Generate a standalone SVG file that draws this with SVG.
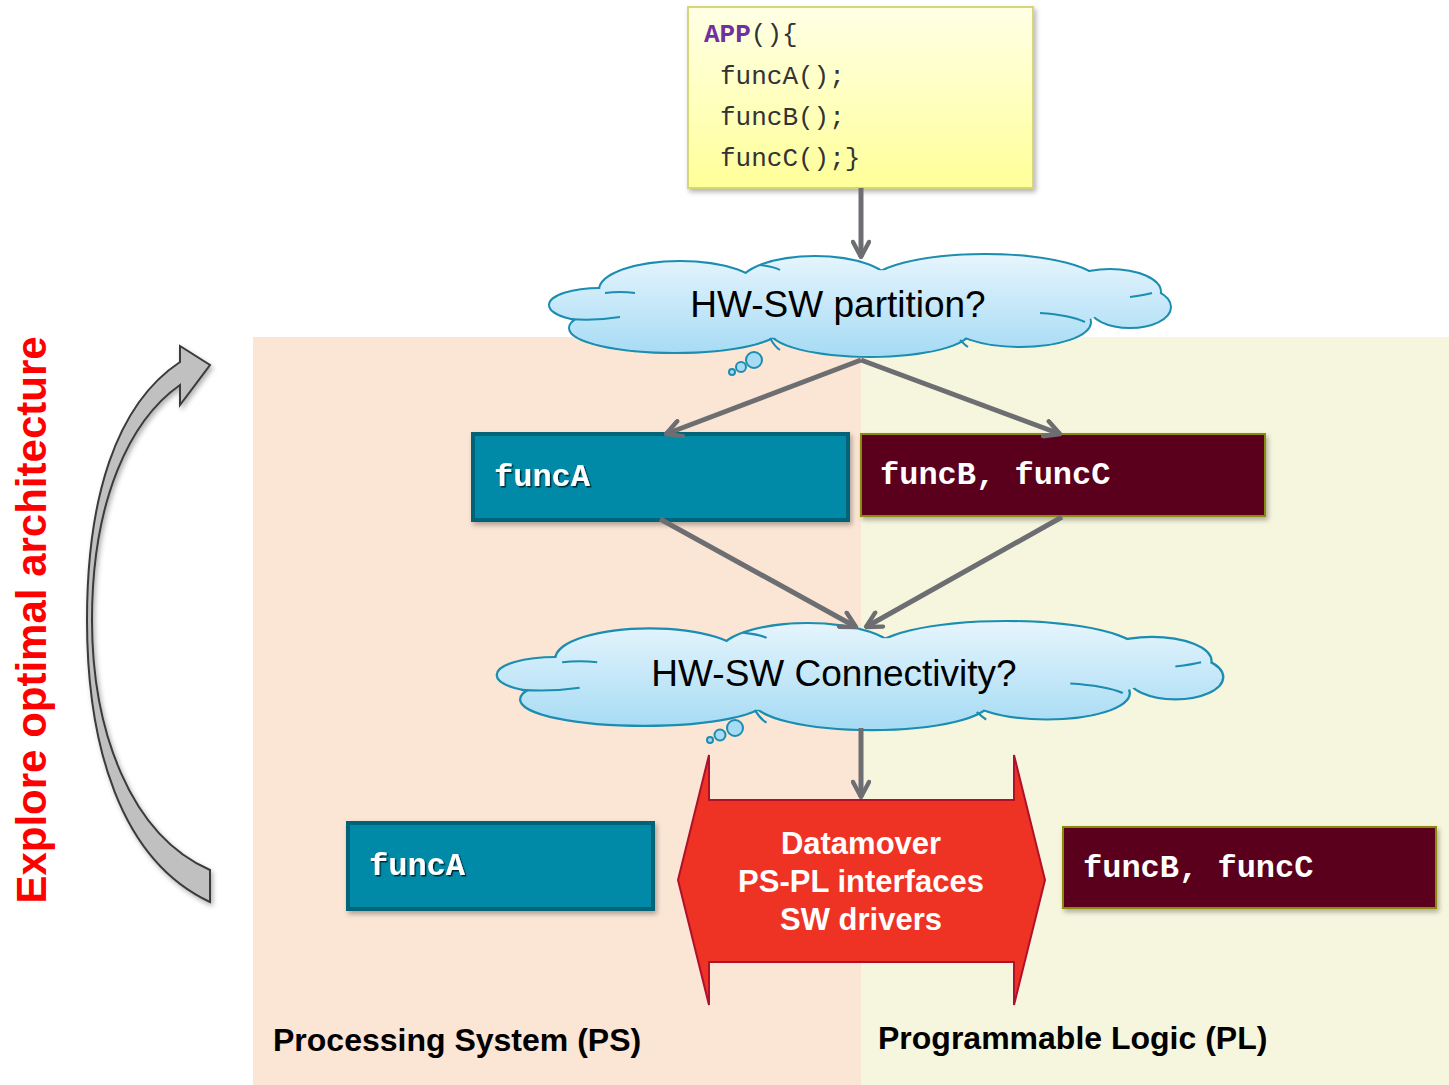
<svg xmlns="http://www.w3.org/2000/svg" xmlns:xlink="http://www.w3.org/1999/xlink" width="1449" height="1085" viewBox="0 0 1449 1085">
<defs>
<style>
.code{font-family:"Liberation Mono","Courier New",monospace;font-size:26px;fill:#333333}
.box{font-family:"Liberation Mono","Courier New",monospace;font-size:32px;font-weight:bold;fill:#ffffff}
.cloudtxt{font-family:"Liberation Sans",Arial,sans-serif;font-size:37px;fill:#000000;text-anchor:middle}
.bold{font-family:"Liberation Sans",Arial,sans-serif;font-weight:bold}
.conn{stroke:#6d6e71;stroke-width:5;fill:none;marker-end:url(#chev)}
.ps{fill:#008aa8;stroke:#006478;stroke-width:4}
.pl{fill:#5a001e;stroke:#8a8a10;stroke-width:2}
</style>
<linearGradient id="yellow" x1="0" y1="0" x2="0" y2="1">
<stop offset="0" stop-color="#ffffe6"/><stop offset="1" stop-color="#ffff99"/>
</linearGradient>
<linearGradient id="sky" gradientUnits="userSpaceOnUse" x1="0" y1="-50" x2="0" y2="50">
<stop offset="0" stop-color="#e6f5fd"/><stop offset="1" stop-color="#a6dbf4"/>
</linearGradient>
<marker id="chev" viewBox="0 0 10 10" refX="9" refY="5" markerWidth="4" markerHeight="4" orient="auto">
<path d="M1.5,1 L9,5 L1.5,9" fill="none" stroke="#6d6e71" stroke-width="2.2" stroke-linecap="round" stroke-linejoin="round"/>
</marker>
<filter id="shadow" x="-10%" y="-10%" width="120%" height="130%">
<feDropShadow dx="2" dy="3" stdDeviation="2.5" flood-color="#000" flood-opacity="0.3"/>
</filter>
<filter id="tshadow">
<feDropShadow dx="1.5" dy="1.5" stdDeviation="0.6" flood-color="#000" flood-opacity="0.7"/>
</filter>
<g id="cloud">
<g fill="none" stroke="#1b8db0" stroke-width="4">
<ellipse cx="-180" cy="-15" rx="80" ry="28"/>
<ellipse cx="-45" cy="-20" rx="75" ry="28"/>
<ellipse cx="125" cy="-20" rx="115" ry="30"/>
<ellipse cx="250" cy="-13" rx="50" ry="22"/>
<ellipse cx="270" cy="2" rx="40" ry="20"/>
<ellipse cx="160" cy="17" rx="70" ry="24"/>
<ellipse cx="10" cy="25" rx="100" ry="26"/>
<ellipse cx="-185" cy="23" rx="105" ry="24"/>
<ellipse cx="-260" cy="0" rx="50" ry="16"/>
</g>
<g fill="url(#sky)">
<ellipse cx="-180" cy="-15" rx="80" ry="28"/>
<ellipse cx="-45" cy="-20" rx="75" ry="28"/>
<ellipse cx="125" cy="-20" rx="115" ry="30"/>
<ellipse cx="250" cy="-13" rx="50" ry="22"/>
<ellipse cx="270" cy="2" rx="40" ry="20"/>
<ellipse cx="160" cy="17" rx="70" ry="24"/>
<ellipse cx="10" cy="25" rx="100" ry="26"/>
<ellipse cx="-185" cy="23" rx="105" ry="24"/>
<ellipse cx="-260" cy="0" rx="50" ry="16"/>
<ellipse cx="0" cy="0" rx="250" ry="35"/>
</g>
<g fill="none" stroke="#1b8db0" stroke-width="2">
<path d="M-255,-12 Q-240,-14 -225,-12"/>
<path d="M-290,14 Q-265,16 -240,12"/>
<path d="M-100,-40 Q-85,-38 -80,-35"/>
<path d="M180,8 Q210,10 225,17"/>
<path d="M270,-8 Q285,-10 292,-12"/>
<path d="M-90,33 Q-85,42 -80,45"/>
<path d="M100,35 Q105,40 108,42"/>
</g>
</g>
</defs>

<rect x="0" y="0" width="1449" height="1085" fill="#ffffff"/>
<g id="bg">
<rect x="253" y="337" width="608" height="748" fill="#fbe5d4"/>
<rect x="861" y="337" width="588" height="748" fill="#f6f5dd"/>
</g>

<g id="code">
<rect x="688" y="7" width="345" height="181" fill="url(#yellow)" stroke="#d6d67a" stroke-width="2" filter="url(#shadow)"/>
<text class="code" x="704" y="42"><tspan font-weight="bold" fill="#7030a0">APP</tspan>(){</text>
<text class="code" x="720" y="84">funcA();</text>
<text class="code" x="720" y="125">funcB();</text>
<text class="code" x="720" y="166">funcC();}</text>
</g>

<g id="partition">
<use xlink:href="#cloud" transform="translate(860,305)"/>
<g fill="#a6dbf4" stroke="#1b8db0" stroke-width="2">
<circle cx="754" cy="360" r="8"/><circle cx="741" cy="367" r="5"/><circle cx="732" cy="372" r="3"/>
</g>
<text class="cloudtxt" x="838" y="317">HW-SW partition?</text>
</g>

<g id="connectivity">
<use xlink:href="#cloud" transform="translate(860,675) scale(1.168,1.06)"/>
<g fill="#a6dbf4" stroke="#1b8db0" stroke-width="2">
<circle cx="735" cy="728" r="8"/><circle cx="720" cy="735" r="5.5"/><circle cx="710" cy="740" r="3"/>
</g>
<text class="cloudtxt" x="834" y="686">HW-SW Connectivity?</text>
</g>

<g id="funcA1">
<rect class="ps" x="473" y="434" width="375" height="86" filter="url(#shadow)"/>
<text class="box" x="494" y="486" filter="url(#tshadow)">funcA</text>
</g>
<g id="funcBC1">
<rect class="pl" x="861" y="434" width="404" height="82" filter="url(#shadow)"/>
<text class="box" x="880" y="484">funcB, funcC</text>
</g>

<g id="connectors">
<line class="conn" x1="861" y1="188" x2="861" y2="257"/>
<line class="conn" x1="861" y1="360" x2="666" y2="434"/>
<line class="conn" x1="861" y1="360" x2="1060" y2="434"/>
<line class="conn" x1="660" y1="519" x2="856" y2="627"/>
<line class="conn" x1="1062" y1="517" x2="866" y2="627"/>
<line class="conn" x1="861" y1="728" x2="861" y2="797"/>
</g>

<g id="datamover">
<polygon points="678,880 709,755 709,800 1014,800 1014,755 1045,880 1014,1005 1014,962 709,962 709,1005" fill="#ee3224" stroke="#b0102a" stroke-width="2"/>
<text class="bold" x="861" y="854" font-size="31" fill="#ffffff" text-anchor="middle">Datamover</text>
<text class="bold" x="861" y="892" font-size="31" fill="#ffffff" text-anchor="middle">PS-PL interfaces</text>
<text class="bold" x="861" y="930" font-size="31" fill="#ffffff" text-anchor="middle">SW drivers</text>
</g>

<g id="funcA2">
<rect class="ps" x="348" y="823" width="305" height="86" filter="url(#shadow)"/>
<text class="box" x="369" y="875" filter="url(#tshadow)">funcA</text>
</g>
<g id="funcBC2">
<rect class="pl" x="1063" y="827" width="373" height="81" filter="url(#shadow)"/>
<text class="box" x="1083" y="877">funcB, funcC</text>
</g>

<g id="labels">
<text class="bold" x="273" y="1051" font-size="32" fill="#000000">Processing System (PS)</text>
<text class="bold" x="878" y="1049" font-size="32" fill="#000000">Programmable Logic (PL)</text>
<text class="bold" transform="translate(46,620) rotate(-90)" font-size="42" fill="#ff0000" text-anchor="middle">Explore optimal architecture</text>
</g>

<g id="loop">
<path d="M210,870 C130,835 92,730 92,620 C92,500 130,420 180,385 L180,405 L210,365 L180,346 L180,362 C115,405 87,500 87,620 C87,745 120,860 210,902 Z" fill="#c0c0c0" stroke="#3a3a3a" stroke-width="2" stroke-linejoin="miter" filter="url(#shadow)"/>
</g>
</svg>
